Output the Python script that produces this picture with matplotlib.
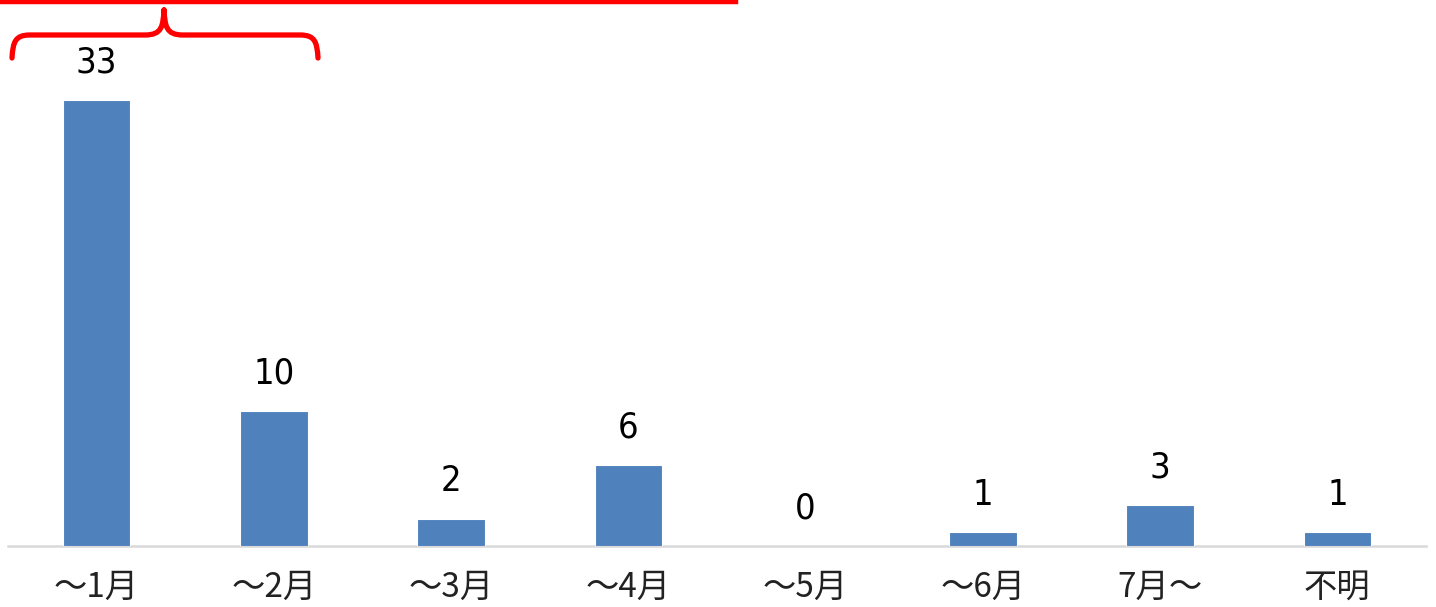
import matplotlib
matplotlib.use("Agg")
import matplotlib.pyplot as plt
from matplotlib.lines import Line2D
from matplotlib.path import Path
from matplotlib.patches import PathPatch

categories = ["～1月", "～2月", "～3月", "～4月", "～5月", "～6月", "7月～", "不明"]
values = [33, 10, 2, 6, 0, 1, 3, 1]

W, H = 1436, 607
fig = plt.figure(figsize=(W / 100, H / 100), dpi=100)
ax = fig.add_axes([8 / W, 1 - 546 / H, 1418 / W, 546 / H])

x = list(range(len(categories)))
ax.bar(x, values, width=0.38, color="#4F81BD", edgecolor="white", linewidth=0.8, zorder=2)
ax.set_xlim(-0.5, len(categories) - 0.5)
ax.set_ylim(0, 40.4)

for xi, v in zip(x, values):
    ax.annotate(str(v), (xi, v), xytext=(0, 27), textcoords="offset points",
                ha="center", va="center", fontsize=26, fontstretch="condensed",
                family=["DejaVu Sans", "Liberation Sans Narrow"], color="black")

ax.set_xticks(x)
ax.set_xticklabels(categories, family=["Noto Sans CJK JP", "DejaVu Sans"], fontsize=24, color="#222222")
ax.tick_params(axis="x", length=0, pad=17)
ax.set_yticks([])
for s in ["left", "right", "top"]:
    ax.spines[s].set_visible(False)
ax.spines["bottom"].set_color("#d9d9d9")
ax.spines["bottom"].set_linewidth(1.8)
ax.spines["bottom"].set_zorder(1)

# red annotation: top line and curly brace (pixel coordinates of figure)
def px(xp, yp):
    return (xp / W, 1 - yp / H)

top = Line2D([px(0, 2)[0], px(736, 2)[0]], [px(0, 2)[1], px(736, 2)[1]],
             transform=fig.transFigure, color="#ff0000", linewidth=3.2)
fig.add_artist(top)

verts = [px(12, 58), px(13, 42), px(15, 35), px(30, 35),
         px(145, 35), px(162, 35), px(163, 26), px(164, 10),
         px(164, 10), px(165, 26), px(166, 35), px(183, 35),
         px(300, 35), px(315, 35), px(317, 42), px(318, 58)]
codes = [Path.MOVETO, Path.CURVE4, Path.CURVE4, Path.CURVE4,
         Path.LINETO, Path.CURVE4, Path.CURVE4, Path.CURVE4,
         Path.MOVETO, Path.CURVE4, Path.CURVE4, Path.CURVE4,
         Path.LINETO, Path.CURVE4, Path.CURVE4, Path.CURVE4]
brace = PathPatch(Path(verts, codes), transform=fig.transFigure, fill=False,
                  edgecolor="#ff0000", linewidth=3.8, capstyle="round", joinstyle="round")
fig.add_artist(brace)

fig.savefig("out.png", dpi=100)
